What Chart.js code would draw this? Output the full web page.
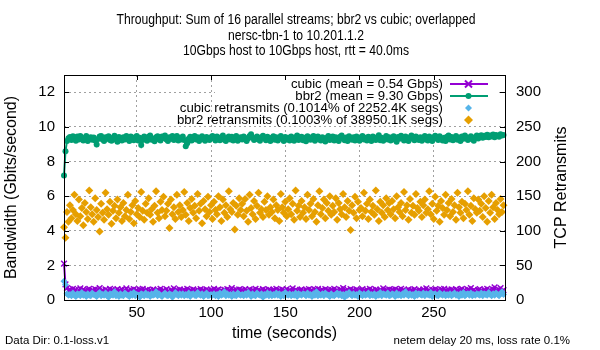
<!DOCTYPE html>
<html>
<head>
<meta charset="utf-8">
<script src="https://cdn.jsdelivr.net/npm/chart.js@4.4.1/dist/chart.umd.min.js"></script>
<style>
  html, body { margin: 0; padding: 0; background: #fff; }
  canvas { display: block; }
</style>
</head>
<body>
<canvas id="tputChart" width="600" height="350"></canvas>
<script>
// values (1 sample per second)
const titleLines = [
  'Throughput: Sum of 16 parallel streams; bbr2 vs cubic; overlapped',
  'nersc-tbn-1 to 10.201.1.2',
  '10Gbps host to 10Gbps host, rtt = 40.0ms'
];
const footLeft = 'Data Dir: 0.1-loss.v1';
const footRight = 'netem delay 20 ms, loss rate 0.1%';
const xTitle = 'time (seconds)';
const yTitle = 'Bandwidth (Gbits/second)';
const y2Title = 'TCP Retransmits';

const startSec = 1;

const cubicGbps = [
  2.10, 0.90, 0.69, 0.54, 0.61, 0.48, 0.65, 0.52, 0.59, 0.44, 0.57, 0.67, 0.50, 0.61, 0.54, 0.42, 0.59, 0.65, 0.48, 0.57,
  0.52, 0.63, 0.46, 0.59, 0.69, 0.50, 0.57, 0.44, 0.61, 0.54, 0.48, 0.65, 0.52, 0.59, 0.46, 0.57, 0.63, 0.50, 0.54, 0.61,
  0.48, 0.57, 0.67, 0.52, 0.44, 0.59, 0.54, 0.63, 0.50, 0.57, 0.46, 0.61, 0.52, 0.65, 0.48, 0.54, 0.59, 0.42, 0.57, 0.50,
  0.61, 0.52, 0.46, 0.59, 0.54, 0.65, 0.48, 0.57, 0.50, 0.63, 0.52, 0.44, 0.59, 0.54, 0.67, 0.48, 0.57, 0.52, 0.61, 0.46,
  0.54, 0.59, 0.50, 0.65, 0.48, 0.57, 0.52, 0.61, 0.44, 0.54, 0.59, 0.50, 0.63, 0.52, 0.57, 0.48, 0.61, 0.54, 0.46, 0.59,
  0.52, 0.65, 0.48, 0.57, 0.61, 0.50, 0.54, 0.44, 0.59, 0.52, 0.63, 0.48, 0.57, 0.69, 0.54, 0.50, 0.59, 0.46, 0.61, 0.52,
  0.57, 0.48, 0.63, 0.54, 0.50, 0.61, 0.44, 0.57, 0.52, 0.65, 0.48, 0.59, 0.54, 0.50, 0.63, 0.52, 0.57, 0.46, 0.61, 0.54,
  0.50, 0.59, 0.54, 0.65, 0.48, 0.57, 0.52, 0.61, 0.46, 0.54, 0.63, 0.50, 0.57, 0.52, 0.67, 0.48, 0.59, 0.54, 0.44, 0.57,
  0.61, 0.52, 0.48, 0.59, 0.54, 0.63, 0.50, 0.57, 0.46, 0.61, 0.52, 0.65, 0.48, 0.54, 0.59, 0.50, 0.63, 0.52, 0.57, 0.48,
  0.59, 0.54, 0.65, 0.50, 0.57, 0.46, 0.61, 0.52, 0.69, 0.48, 0.54, 0.59, 0.50, 0.63, 0.52, 0.57, 0.44, 0.61, 0.54, 0.50,
  0.57, 0.63, 0.48, 0.54, 0.59, 0.52, 0.65, 0.50, 0.57, 0.46, 0.61, 0.54, 0.50, 0.59, 0.52, 0.67, 0.48, 0.57, 0.54, 0.61,
  0.50, 0.59, 0.52, 0.63, 0.48, 0.57, 0.54, 0.65, 0.50, 0.59, 0.46, 0.54, 0.61, 0.52, 0.57, 0.48, 0.63, 0.54, 0.50, 0.59,
  0.54, 0.48, 0.61, 0.52, 0.67, 0.50, 0.57, 0.44, 0.59, 0.54, 0.63, 0.48, 0.57, 0.52, 0.61, 0.50, 0.65, 0.54, 0.48, 0.59,
  0.52, 0.61, 0.57, 0.48, 0.63, 0.54, 0.50, 0.59, 0.65, 0.52, 0.57, 0.46, 0.61, 0.54, 0.69, 0.50, 0.59, 0.52, 0.44, 0.57,
  0.63, 0.54, 0.50, 0.59, 0.48, 0.65, 0.52, 0.57, 0.46, 0.61, 0.73, 0.54, 0.50, 0.59, 0.69, 0.52, 0.57
];

const bbr2Gbps = [
  7.20, 8.60, 9.18, 9.35, 9.42, 9.25, 9.46, 9.30, 9.20, 9.44, 9.28, 9.48, 9.38, 9.22, 9.35, 9.47, 9.19, 9.33, 9.41, 9.26,
  9.39, 9.21, 8.98, 9.30, 9.45, 9.47, 9.27, 9.18, 9.40, 9.32, 9.46, 9.24, 9.20, 9.38, 9.49, 9.26, 9.15, 9.42, 9.31, 9.22,
  9.41, 9.27, 9.47, 9.34, 9.19, 9.44, 9.30, 9.23, 9.40, 9.48, 9.21, 9.37, 8.95, 9.25, 9.45, 9.33, 9.20, 9.43, 9.50, 9.26,
  9.32, 9.17, 9.41, 9.46, 9.29, 9.22, 9.44, 9.36, 9.51, 9.27, 9.19, 9.40, 9.31, 9.47, 9.24, 9.35, 9.48, 9.21, 9.38, 9.28,
  9.44, 9.25, 8.88, 9.05, 9.31, 9.43, 9.22, 9.39, 9.47, 9.27, 9.41, 9.18, 9.34, 9.46, 9.29, 9.20, 9.42, 9.32, 9.24, 9.40,
  9.48, 9.33, 9.21, 9.44, 9.30, 9.23, 9.41, 9.50, 9.26, 9.19, 9.38, 9.45, 9.28, 9.43, 9.22, 9.35, 9.47, 9.20, 9.31, 9.40,
  9.27, 9.45, 9.36, 9.18, 9.33, 9.47, 9.58, 9.39, 9.24, 9.32, 9.44, 9.28, 9.20, 9.41, 9.49, 9.34, 9.23, 9.43, 9.30, 9.19,
  9.37, 9.46, 9.26, 9.40, 9.22, 9.33, 9.48, 9.31, 9.18, 9.42, 9.27, 9.38, 9.21, 9.45, 9.34, 9.20, 9.40, 9.50, 9.25, 9.32,
  9.43, 9.23, 9.37, 9.17, 9.46, 9.30, 9.26, 9.41, 9.48, 9.20, 9.35, 9.44, 9.28, 9.22, 9.40, 9.31, 9.16, 9.38, 9.47, 9.25,
  9.33, 9.45, 9.22, 9.40, 9.29, 9.19, 9.43, 9.50, 9.31, 9.23, 9.39, 9.18, 9.46, 9.34, 9.26, 9.41, 9.21, 9.44, 9.32, 9.20,
  9.40, 9.48, 9.28, 9.37, 9.22, 9.43, 9.31, 9.18, 9.45, 9.34, 9.25, 9.41, 9.52, 9.23, 9.38, 9.20, 9.32, 9.47, 9.27, 9.40,
  9.22, 9.35, 9.46, 9.26, 9.15, 9.42, 9.31, 9.49, 9.37, 9.21, 9.44, 9.28, 9.19, 9.40, 9.50, 9.32, 9.23, 9.45, 9.34, 9.25,
  9.41, 9.20, 9.37, 9.47, 9.28, 9.22, 9.44, 9.31, 9.18, 9.40, 9.49, 9.33, 9.25, 9.46, 9.30, 9.21, 9.38, 9.19, 9.43, 9.50,
  9.27, 9.42, 9.23, 9.35, 9.47, 9.26, 9.39, 9.18, 9.44, 9.31, 9.50, 9.40, 9.24, 9.36, 9.46, 9.29, 9.20, 9.41, 9.51, 9.33,
  9.45, 9.52, 9.38, 9.49, 9.42, 9.55, 9.40, 9.50, 9.44, 9.56, 9.41, 9.53, 9.47, 9.43, 9.57, 9.50, 9.54
];

// retransmits per second (right axis)
const cubicRetrans = [
  27, 22, 9, 7, 8, 6, 10, 7, 5, 9, 8, 6, 11, 7, 8, 5, 9, 7, 6, 10,
  8, 7, 5, 9, 11, 6, 8, 7, 10, 6, 4, 9, 8, 7, 12, 6, 8, 5, 9, 7,
  6, 10, 8, 7, 5, 9, 7, 11, 6, 8, 7, 4, 9, 8, 6, 10, 7, 8, 5, 9,
  7, 8, 12, 6, 9, 7, 5, 8, 10, 7, 6, 9, 8, 4, 7, 11, 8, 6, 9, 7,
  9, 6, 8, 7, 10, 5, 8, 9, 7, 6, 11, 8, 7, 9, 5, 8, 10, 6, 7, 8,
  7, 9, 6, 8, 5, 10, 7, 8, 12, 6, 9, 7, 8, 5, 9, 7, 6, 10, 8, 7,
  8, 6, 9, 7, 11, 8, 5, 9, 7, 6, 10, 8, 7, 9, 4, 8, 7, 10, 6, 9,
  6, 8, 7, 10, 7, 9, 5, 8, 6, 11, 8, 7, 9, 6, 8, 7, 10, 5, 9, 8,
  7, 9, 8, 6, 10, 7, 8, 5, 9, 7, 12, 6, 8, 7, 9, 6, 10, 8, 7, 5,
  9, 7, 6, 8, 10, 7, 9, 6, 8, 4, 9, 7, 11, 8, 6, 9, 7, 8, 5, 10,
  8, 6, 9, 7, 8, 10, 6, 8, 7, 9, 5, 8, 7, 11, 6, 9, 8, 7, 10, 6,
  7, 9, 8, 5, 10, 7, 8, 6, 9, 7, 12, 8, 6, 9, 7, 8, 5, 10, 7, 9,
  8, 7, 10, 6, 9, 8, 7, 11, 5, 8, 9, 7, 6, 10, 8, 7, 9, 6, 8, 7,
  9, 6, 8, 10, 7, 8, 5, 9, 7, 11, 6, 8, 9, 7, 10, 6, 8, 7, 9, 8,
  7, 10, 6, 9, 8, 7, 11, 8, 6, 9, 7, 10, 8, 6, 9, 12, 8
];

const bbr2Retrans = [
  105, 90, 127, 113, 137, 118, 130, 152, 124, 114, 145, 121, 133, 108, 140, 127, 117, 158, 134, 124,
  113, 147, 130, 120, 99, 139, 126, 116, 155, 131, 123, 142, 110, 129, 136, 118, 145, 126, 134, 114,
  140, 121, 130, 152, 117, 127, 137, 111, 143, 124, 133, 120, 156, 129, 116, 139, 126, 147, 123, 131,
  113, 136, 157, 126, 118, 142, 130, 149, 121, 129, 139, 104, 145, 124, 134, 117, 152, 127, 137, 120,
  130, 156, 123, 140, 114, 133, 146, 126, 136, 118, 153, 129, 139, 111, 143, 131, 121, 149, 127, 137,
  117, 142, 130, 124, 150, 134, 114, 145, 126, 137, 120, 157, 131, 127, 140, 102, 136, 123, 147, 130,
  139, 121, 146, 129, 113, 152, 133, 124, 143, 117, 136, 155, 126, 131, 120, 142, 130, 150, 123, 134,
  127, 145, 118, 137, 130, 114, 153, 134, 126, 142, 121, 131, 147, 124, 139, 116, 158, 129, 136, 120,
  143, 126, 134, 117, 152, 130, 139, 121, 146, 127, 113, 137, 157, 124, 133, 145, 118, 140, 129, 150,
  123, 136, 127, 147, 116, 140, 131, 124, 153, 134, 120, 143, 129, 101, 137, 126, 149, 118, 142, 130,
  133, 121, 155, 129, 139, 117, 145, 127, 136, 123, 158, 131, 114, 142, 126, 137, 120, 147, 130, 140,
  124, 143, 131, 118, 150, 134, 127, 140, 121, 156, 130, 137, 116, 146, 126, 136, 123, 153, 133, 129,
  142, 120, 137, 145, 126, 131, 157, 124, 139, 117, 149, 129, 136, 113, 143, 133, 123, 152, 130, 140,
  121, 146, 127, 137, 116, 155, 134, 126, 142, 118, 139, 130, 157, 123, 136, 114, 147, 131, 126, 145,
  129, 139, 120, 150, 133, 113, 143, 126, 152, 134, 117, 140, 130, 124, 146, 127, 137
];

const xTickVals = [50, 100, 150, 200, 250];
const yTickVals = [0, 2, 4, 6, 8, 10, 12];
const y2TickVals = [0, 50, 100, 150, 200, 250, 300];

const seriesLabels = [
  'cubic (mean = 0.54 Gbps)',
  'bbr2 (mean = 9.30 Gbps)',
  'cubic retransmits (0.1014% of 2252.4K segs)',
  'bbr2 retransmits (0.1003% of 38950.1K segs)'
];

// gnuplot default palette
const PURPLE = '#9400d3', GREEN = '#009e73', SKY = '#56b4e9', ORANGE = '#e69f00';
const FONT = '"Liberation Sans", Arial, sans-serif';

const toPts = (arr) => arr.map((v, i) => ({ x: startSec + i, y: v }));

// border box, tics, key, titles and footer text - gnuplot style
const gnuplotDecor = {
  id: 'gnuplotDecor',
  afterDraw(chart) {
    const { ctx, chartArea: a, scales } = chart;
    ctx.save();

    // key (opaque box)
    ctx.fillStyle = '#fff';
    ctx.fillRect(215, a.top + 1, 281, 50);
    const keyY = [84, 96, 108, 120];
    ctx.font = '13.2px ' + FONT;
    ctx.textAlign = 'right';
    ctx.textBaseline = 'middle';
    ctx.fillStyle = '#000';
    seriesLabels.forEach((t, i) => ctx.fillText(t, 443, keyY[i]));
    // samples
    ctx.lineWidth = 2;
    ctx.strokeStyle = PURPLE;
    ctx.beginPath(); ctx.moveTo(450, keyY[0]); ctx.lineTo(488, keyY[0]); ctx.stroke();
    ctx.beginPath();
    ctx.moveTo(465, keyY[0] - 3.5); ctx.lineTo(472, keyY[0] + 3.5);
    ctx.moveTo(472, keyY[0] - 3.5); ctx.lineTo(465, keyY[0] + 3.5);
    ctx.stroke();
    ctx.strokeStyle = GREEN; ctx.fillStyle = GREEN;
    ctx.beginPath(); ctx.moveTo(450, keyY[1]); ctx.lineTo(488, keyY[1]); ctx.stroke();
    ctx.beginPath(); ctx.arc(468.5, keyY[1], 3, 0, Math.PI * 2); ctx.fill();
    const diamond = (x, y, r, c) => {
      ctx.fillStyle = c;
      ctx.beginPath();
      ctx.moveTo(x, y - r); ctx.lineTo(x + r, y); ctx.lineTo(x, y + r); ctx.lineTo(x - r, y);
      ctx.closePath(); ctx.fill();
    };
    diamond(468.5, keyY[2], 3.5, SKY);
    diamond(468.5, keyY[3], 4.5, ORANGE);

    // frame + inward tics
    ctx.strokeStyle = '#000';
    ctx.lineWidth = 1;
    ctx.strokeRect(Math.round(a.left) + 0.5, Math.round(a.top) + 0.5,
      Math.round(a.right - a.left), Math.round(a.bottom - a.top));
    const tic = 5;
    ctx.beginPath();
    xTickVals.forEach(v => {
      const x = Math.round(scales.x.getPixelForValue(v)) + 0.5;
      ctx.moveTo(x, a.bottom); ctx.lineTo(x, a.bottom - tic);
      ctx.moveTo(x, a.top); ctx.lineTo(x, a.top + tic);
    });
    yTickVals.forEach(v => {
      const y = Math.round(scales.y.getPixelForValue(v)) + 0.5;
      ctx.moveTo(a.left, y); ctx.lineTo(a.left + tic, y);
    });
    y2TickVals.forEach(v => {
      const y = Math.round(scales.y2.getPixelForValue(v)) + 0.5;
      ctx.moveTo(a.right, y); ctx.lineTo(a.right - tic, y);
    });
    ctx.stroke();

    // title - gnuplot used a condensed face, squeeze regular one to the same width
    ctx.fillStyle = '#000';
    ctx.textAlign = 'center';
    ctx.font = '15.5px ' + FONT;
    const squeeze = 359 / ctx.measureText(titleLines[0]).width;
    titleLines.forEach((t, i) => {
      ctx.save();
      ctx.translate(296, 20 + i * 15.5);
      ctx.scale(squeeze, 1);
      ctx.fillText(t, 0, 0);
      ctx.restore();
    });

    // right axis title (reads bottom to top like gnuplot)
    ctx.save();
    ctx.translate(562, (a.top + a.bottom) / 2);
    ctx.rotate(-Math.PI / 2);
    ctx.font = '16px ' + FONT;
    ctx.fillText(y2Title, 0, 0);
    ctx.restore();

    // footer
    ctx.font = '11.5px ' + FONT;
    ctx.textAlign = 'left';
    ctx.fillText(footLeft, 5, 341);
    ctx.textAlign = 'right';
    ctx.fillText(footRight, 570, 341);
    ctx.restore();
  }
};

const gridStyle = { color: '#a0a0a0', lineWidth: 1, drawTicks: false };
const gridBorder = { display: false, dash: [2, 3] };
const tickFont = { family: FONT, size: 15 };

new Chart(document.getElementById('tputChart'), {
  type: 'line',
  data: {
    datasets: [
      {
        label: seriesLabels[0], data: toPts(cubicGbps), yAxisID: 'y', order: 4,
        borderColor: PURPLE, backgroundColor: PURPLE, borderWidth: 2,
        pointStyle: 'crossRot', pointRadius: 4, pointBorderWidth: 1.5, clip: false
      },
      {
        label: seriesLabels[1], data: toPts(bbr2Gbps), yAxisID: 'y', order: 3,
        borderColor: GREEN, backgroundColor: GREEN, borderWidth: 2,
        pointStyle: 'circle', pointRadius: 3, pointBorderWidth: 0, clip: false
      },
      {
        label: seriesLabels[2], data: toPts(cubicRetrans), yAxisID: 'y2', order: 2,
        showLine: false, backgroundColor: SKY, borderColor: SKY,
        pointStyle: 'rectRot', pointRadius: 3.5, pointBorderWidth: 0, clip: false
      },
      {
        label: seriesLabels[3], data: toPts(bbr2Retrans), yAxisID: 'y2', order: 1,
        showLine: false, backgroundColor: ORANGE, borderColor: ORANGE,
        pointStyle: 'rectRot', pointRadius: 4, pointBorderWidth: 0, clip: false
      }
    ]
  },
  options: {
    responsive: false,
    animation: false,
    events: [],
    layout: { padding: { top: 75, right: 25, left: 0, bottom: 0 } },
    plugins: { legend: { display: false }, title: { display: false }, tooltip: { enabled: false } },
    scales: {
      x: {
        type: 'linear', min: 1, max: 298,
        afterBuildTicks: s => { s.ticks = xTickVals.map(v => ({ value: v })); },
        afterFit: s => { s.height = 50; },
        ticks: { font: tickFont, color: '#000', padding: 4, maxRotation: 0 },
        grid: gridStyle, border: gridBorder,
        title: { display: true, text: xTitle, color: '#000', font: { family: FONT, size: 16 }, padding: { top: 0, bottom: 7 } }
      },
      y: {
        position: 'left', min: 0, max: 13,
        afterBuildTicks: s => { s.ticks = yTickVals.map(v => ({ value: v })); },
        afterFit: s => { s.width = 64; },
        ticks: { font: tickFont, color: '#000', padding: 9 },
        grid: gridStyle, border: gridBorder,
        title: { display: true, text: yTitle, color: '#000', font: { family: FONT, size: 16 }, padding: { top: 2, bottom: 0 } }
      },
      y2: {
        position: 'right', min: 0, max: 325,
        afterBuildTicks: s => { s.ticks = y2TickVals.map(v => ({ value: v })); },
        afterFit: s => { s.width = 70; },
        ticks: { font: tickFont, color: '#000', padding: 11 },
        grid: { display: false, drawTicks: false }, border: { display: false }
      }
    }
  },
  plugins: [gnuplotDecor]
});
</script>
</body>
</html>
